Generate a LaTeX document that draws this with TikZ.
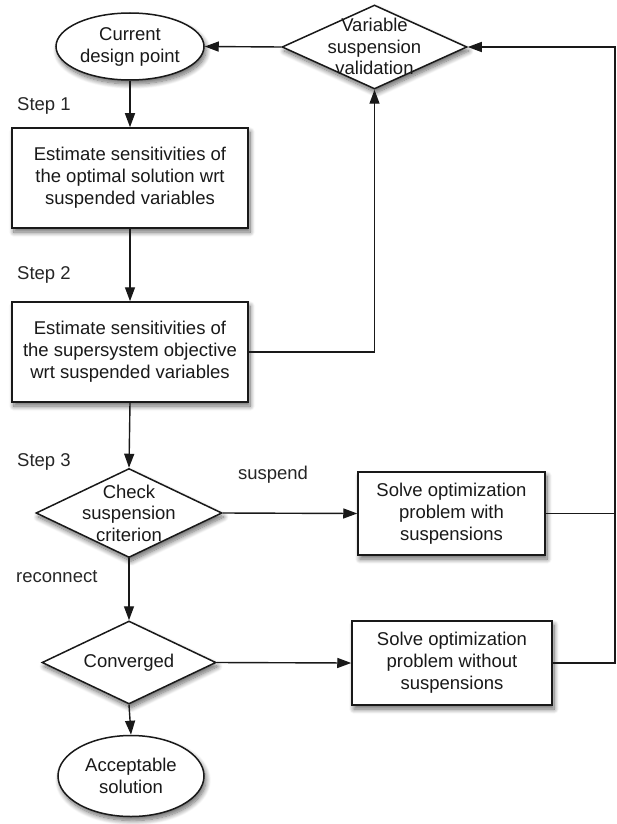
\documentclass[tikz,border=0pt]{standalone}
\usepackage{fontspec}
\setmainfont{Liberation Sans}
\usetikzlibrary{shapes.geometric,arrows.meta,shadows.blur}
\begin{document}
\begin{tikzpicture}[x=1pt,y=-1pt,
  every node/.style={font=\fontsize{18.5}{22}\selectfont, inner sep=0pt, text=black!90},
  shad/.style={blur shadow={shadow xshift=2pt, shadow yshift=-4pt, shadow blur radius=5pt, shadow blur steps=10, shadow opacity=60}},
  box/.style={rectangle, draw=black!90, line width=1.5pt, fill=white, shad, align=center},
  ell/.style={ellipse, draw=black!90, line width=1.5pt, fill=white, shad, align=center},
  dia/.style={diamond, draw=black!90, line width=1.5pt, fill=white, shad},
  txt/.style={align=center, font=\fontsize{18.5}{21.5}\selectfont},
  lbl/.style={text=black!85},
  arr/.style={-{Triangle[length=14pt,width=10pt]}, line width=1.4pt, draw=black!90},
  ln/.style={line width=1.4pt, draw=black!90}
]
\useasboundingbox (0,0) rectangle (616,824);

% nodes
\node[ell, minimum width=148pt, minimum height=67pt] (e1) at (130,46.5) {Current\\design point};
\node[dia, minimum width=185pt, minimum height=84pt] (d1) at (374.5,47) {};
\node[txt] (d1t) at (374.5,46.5) {Variable\\suspension\\validation};

\node[box, minimum width=236pt, minimum height=100pt] (b1) at (130,178) {Estimate sensitivities of\\the optimal solution wrt\\suspended variables};
\node[box, minimum width=236pt, minimum height=100pt] (b2) at (130,352) {Estimate sensitivities of\\the supersystem objective\\wrt suspended variables};

\node[dia, minimum width=186pt, minimum height=89pt] (d2) at (129,513) {};
\node[txt] (d2t) at (129,513) {Check\\suspension\\criterion};

\node[box, minimum width=187pt, minimum height=83pt] (b3) at (451.5,513.5) {Solve optimization\\problem with\\suspensions};

\node[dia, minimum width=174pt, minimum height=83pt] (d3) at (129,662.5) {};
\node[txt] (d3t) at (129,662.5) {Converged};

\node[box, minimum width=200pt, minimum height=84pt] (b4) at (452,663) {Solve optimization\\problem without\\suspensions};

\node[ell, minimum width=146pt, minimum height=81pt] (e2) at (131,776) {Acceptable\\solution};

% labels
\node[lbl, anchor=west] (s1) at (17,106) {Step 1};
\node[lbl, anchor=west] (s2) at (17,275) {Step 2};
\node[lbl, anchor=west] (s3) at (17,462) {Step 3};
\node[lbl] (sus) at (273,475) {suspend};
\node[lbl, anchor=west] (rec) at (16,577) {reconnect};

\coordinate (rt) at (615,47);

% connectors
\draw[arr] (d1.west) -- (e1.east);
\draw[arr] (e1.south) -- (b1.north);
\draw[arr] (b1.south) -- (b2.north);
\draw[arr] (b2.east) -| (d1.south);
\draw[arr] (b2.south) -- (d2.north);
\draw[arr] (d2.east) -- (b3.west);
\draw[arr] (d2.south) -- (d3.north);
\draw[arr] (d3.east) -- (b4.west);
\draw[arr] (d3.south) -- (e2.north);
\draw[ln] (b3.east) -- (b3.east -| rt);
\draw[arr] (b4.east) -| (rt) -- (d1.east);
\end{tikzpicture}
\end{document}
